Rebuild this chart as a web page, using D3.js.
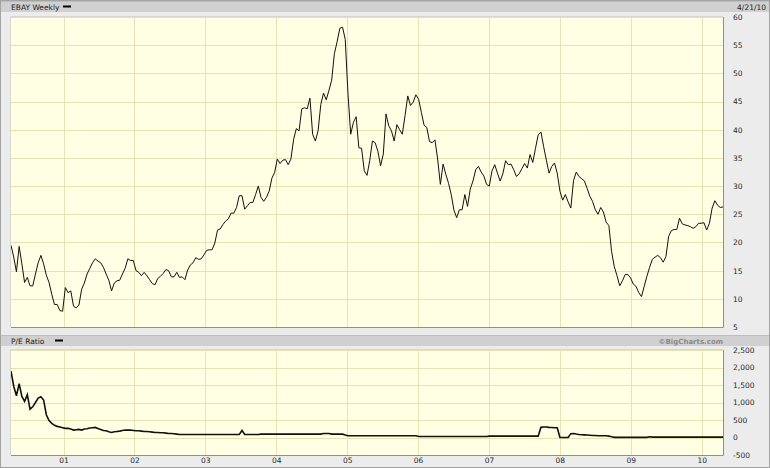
<!DOCTYPE html>
<html>
<head>
  <meta charset="utf-8">
  <title>EBAY Weekly</title>
  <script src="https://cdn.jsdelivr.net/npm/d3@7"></script>
  <style>
    body { margin: 0; background: #fff; }
    svg { display: block; font-family: "DejaVu Sans", sans-serif; }
  </style>
</head>
<body>
<div id="chart"></div>
<script>

// weekly chart sampled every two weeks, first close on startDate
var startDate = "2000-04-05";
var stepDays = 14;

var priceValues = [
  19.5, 17.4, 14.8, 19.3, 16.2, 12.9, 13.8, 12.3, 12.3, 14.4,
  16.4, 17.7, 16.2, 14.2, 12.9, 10.8, 9.0, 9.0, 7.9, 7.8,
  12.0, 11.1, 11.4, 8.7, 8.4, 8.9, 11.7, 12.8, 14.4, 15.4,
  16.4, 17.1, 16.7, 16.4, 15.6, 14.4, 13.3, 11.4, 12.8, 13.2,
  13.3, 14.4, 15.4, 17.1, 16.8, 16.8, 15.0, 14.7, 14.1, 14.7,
  14.1, 13.4, 12.7, 12.5, 13.6, 14.0, 14.5, 15.2, 15.0, 13.9,
  13.9, 14.7, 13.8, 13.9, 13.4, 15.1, 16.0, 16.4, 17.3, 17.0,
  17.1, 17.8, 18.6, 18.7, 18.7, 19.9, 22.2, 22.4, 23.2, 23.8,
  24.2, 25.2, 25.2, 26.2, 28.3, 28.3, 25.9, 26.5, 27.1, 27.1,
  28.5, 30.0, 28.0, 27.3, 28.0, 29.1, 31.4, 32.4, 34.8, 34.0,
  34.6, 34.7, 33.8, 34.8, 38.3, 40.2, 39.8, 43.7, 43.9, 43.7,
  45.6, 39.2, 38.0, 39.8, 44.5, 46.5, 45.3, 47.0, 48.8, 53.5,
  55.6, 58.0, 58.2, 56.0, 46.4, 39.2, 41.3, 42.3, 36.8, 36.7,
  32.7, 31.9, 34.5, 38.0, 37.7, 36.2, 33.6, 35.7, 42.8, 40.7,
  39.8, 38.0, 40.9, 40.0, 39.2, 42.5, 46.0, 44.3, 44.9, 46.2,
  45.4, 43.1, 40.8, 40.4, 37.9, 37.7, 38.2, 34.8, 30.3, 33.9,
  32.1, 30.5, 28.5, 25.7, 24.4, 25.8, 25.8, 28.5, 26.4, 29.5,
  30.9, 32.9, 33.5, 32.5, 31.8, 30.3, 30.0, 32.7, 33.8, 32.3,
  30.9, 32.2, 34.5, 33.8, 33.9, 32.9, 31.7, 32.2, 33.1, 34.0,
  33.2, 35.6, 34.2, 36.7, 39.1, 39.6, 37.0, 34.6, 32.3, 33.5,
  34.1, 32.3, 29.1, 27.5, 28.5, 27.2, 26.1, 31.0, 32.5, 31.7,
  31.3, 30.9, 29.6, 28.2, 27.3, 25.8, 25.0, 26.2, 25.4, 23.6,
  23.0, 18.4, 15.7, 14.1, 12.3, 13.2, 14.3, 14.3, 13.7, 12.6,
  12.2, 11.1, 10.4, 12.2, 14.0, 15.6, 17.0, 17.4, 17.7, 17.3,
  16.5, 17.5, 21.1, 22.1, 22.3, 22.3, 24.3, 23.3, 23.1, 23.0,
  22.8, 22.5, 22.8, 23.4, 23.4, 23.5, 22.2, 23.4, 26.1, 27.4,
  26.6, 26.2, 26.3
];

var peValues = [
  1897, 1464, 1194, 1540, 1175, 1030, 1223, 809, 876, 1001,
  1127, 1165, 1069, 650, 482, 404, 347, 318, 299, 279,
  260, 260, 241, 212, 221, 231, 212, 241, 250, 270,
  279, 289, 260, 231, 202, 193, 164, 144, 164, 173,
  183, 202, 212, 212, 212, 202, 193, 193, 183, 173,
  173, 164, 154, 144, 144, 135, 135, 125, 116, 116,
  106, 96, 87, 87, 87, 87, 87, 87, 87, 87,
  87, 87, 87, 87, 87, 87, 87, 87, 87, 87,
  87, 87, 87, 87, 87, 200, 87, 87, 87, 87,
  87, 87, 96, 96, 96, 96, 96, 96, 96, 96,
  96, 96, 96, 96, 96, 96, 96, 96, 96, 96,
  96, 96, 96, 96, 96, 116, 116, 116, 96, 96,
  96, 96, 96, 70, 48, 48, 48, 48, 48, 48,
  48, 48, 48, 48, 48, 48, 48, 48, 48, 48,
  48, 48, 48, 48, 48, 48, 48, 48, 48, 48,
  29, 29, 29, 29, 29, 29, 29, 29, 29, 29,
  29, 29, 29, 29, 29, 29, 29, 29, 29, 29,
  29, 29, 29, 29, 29, 29, 39, 39, 39, 39,
  39, 39, 39, 39, 39, 39, 39, 39, 39, 39,
  39, 39, 39, 39, 39, 290, 300, 300, 290, 285,
  280, 280, 0, 0, 0, 0, 110, 116, 100, 87,
  80, 75, 70, 65, 58, 55, 52, 50, 48, 48,
  40, 20, 5, 5, 5, 5, 5, 5, 5, 5,
  5, 5, 5, 5, 5, 20, 10, 10, 10, 10,
  10, 10, 10, 10, 10, 10, 10, 10, 10, 10,
  10, 10, 10, 10, 10, 10, 10, 10, 10, 10,
  10, 10, 10
];

var priceTicks = [5, 10, 15, 20, 25, 30, 35, 40, 45, 50, 55, 60];
var peTicks = [-500, 0, 500, 1000, 1500, 2000, 2500];
var peTickLabels = ["-500", "0", "500", "1,000", "1,500", "2,000", "2,500"];
var yearTicks = [2001, 2002, 2003, 2004, 2005, 2006, 2007, 2008, 2009, 2010];

var titleText = "EBAY Weekly";
var dateText = "4/21/10";
var peTitle = "P/E Ratio";
var creditText = "\u00A9BigCharts.com";

var width = 770, height = 468;
var left = 11, right = 723;
var top1 = 17, bottom1 = 327;
var top2 = 350, bottom2 = 455;

var gridColor = "#e6e2b3";
var plotFill = "#ffffe3";

var parse = d3.timeParse("%Y-%m-%d");
var start = parse(startDate);
var dates = priceValues.map(function (v, i) { return d3.timeDay.offset(start, i * stepDays); });
var yearDates = yearTicks.map(function (y) { return new Date(y, 0, 1); });

var svg = d3.select("#chart").append("svg")
  .attr("width", width)
  .attr("height", height);

// background & frame
svg.append("rect").attr("width", width).attr("height", height).attr("fill", "#ececec");
svg.append("rect").attr("x", 0.5).attr("y", 0.5).attr("width", width - 1).attr("height", height - 1)
  .attr("fill", "none").attr("stroke", "#a3a3a3");

var x = d3.scaleTime().domain([dates[0], dates[dates.length - 1]]).range([left, right]);
var yPrice = d3.scaleLinear().domain([5, 60]).range([bottom1, top1]);
var yPE = d3.scaleLinear().domain([-500, 2500]).range([bottom2, top2]);

function headerBand(y) {
  svg.append("rect").attr("x", 1).attr("y", y).attr("width", width - 2).attr("height", 11).attr("fill", "#d0d0d0");
  svg.append("line").attr("x1", 1).attr("x2", width - 1).attr("y1", y + 0.5).attr("y2", y + 0.5).attr("stroke", "#bdbdbd");
}

function panel(yScale, ticks, top, bottom) {
  var g = svg.append("g");
  g.append("rect").attr("x", left).attr("y", top).attr("width", right - left).attr("height", bottom - top)
    .attr("fill", plotFill);

  g.append("g").selectAll("line").data(ticks).enter().append("line")
    .attr("x1", left).attr("x2", right)
    .attr("y1", function (d) { return Math.round(yScale(d)) + 0.5; })
    .attr("y2", function (d) { return Math.round(yScale(d)) + 0.5; })
    .attr("stroke", gridColor);

  g.append("g").selectAll("line").data(yearDates).enter().append("line")
    .attr("x1", function (d) { return Math.round(x(d)) + 0.5; })
    .attr("x2", function (d) { return Math.round(x(d)) + 0.5; })
    .attr("y1", top).attr("y2", bottom)
    .attr("stroke", gridColor);

  // edges: light top/left, darker bottom/right
  g.append("path").attr("d", "M" + (left - 0.5) + "," + bottom + "V" + (top - 0.5) + "H" + right)
    .attr("fill", "none").attr("stroke", "#d6d6d6");
  g.append("path").attr("d", "M" + left + "," + (bottom + 0.5) + "H" + (right + 0.5) + "V" + top)
    .attr("fill", "none").attr("stroke", "#8e8e8e");
  return g;
}

headerBand(1);
headerBand(335);

panel(yPrice, priceTicks, top1, bottom1);
panel(yPE, peTicks, top2, bottom2);

svg.append("clipPath").attr("id", "clip1")
  .append("rect").attr("x", left).attr("y", top1).attr("width", right - left).attr("height", bottom1 - top1);
svg.append("clipPath").attr("id", "clip2")
  .append("rect").attr("x", left).attr("y", top2).attr("width", right - left).attr("height", bottom2 - top2);

var priceLine = d3.line()
  .x(function (d, i) { return x(dates[i]); })
  .y(function (d) { return yPrice(d); });

var peLine = d3.line()
  .x(function (d, i) { return x(dates[i]); })
  .y(function (d) { return yPE(d); });

svg.append("path").datum(priceValues)
  .attr("clip-path", "url(#clip1)")
  .attr("d", priceLine)
  .attr("fill", "none").attr("stroke", "#111").attr("stroke-width", 1);

svg.append("path").datum(peValues)
  .attr("clip-path", "url(#clip2)")
  .attr("d", peLine)
  .attr("fill", "none").attr("stroke", "#111").attr("stroke-width", 1.6);

// right axes
var ax1 = svg.append("g").attr("transform", "translate(" + right + ",0)")
  .call(d3.axisRight(yPrice).tickValues(priceTicks).tickSize(0).tickPadding(10));
var ax2 = svg.append("g").attr("transform", "translate(" + right + ",0)")
  .call(d3.axisRight(yPE).tickValues(peTicks).tickSize(0).tickPadding(10)
    .tickFormat(function (d, i) { return peTickLabels[i]; }));

// bottom axis
var ax3 = svg.append("g").attr("transform", "translate(0," + bottom2 + ")")
  .call(d3.axisBottom(x).tickValues(yearDates).tickSize(0).tickPadding(3)
    .tickFormat(d3.timeFormat("%y")));

[ax1, ax2, ax3].forEach(function (a) {
  a.select(".domain").remove();
  a.selectAll("text").attr("fill", "#2a2a2a").style("font-size", "7.5px")
    .style("font-family", "'DejaVu Sans', sans-serif");
});

// header texts
svg.append("text").attr("x", 11).attr("y", 9.5).text(titleText)
  .attr("fill", "#222").style("font-size", "7.5px");
svg.append("rect").attr("x", 63).attr("y", 5.5).attr("width", 8).attr("height", 2).attr("fill", "#000");
svg.append("text").attr("x", 766).attr("y", 9.5).attr("text-anchor", "end").text(dateText)
  .attr("fill", "#222").style("font-size", "7.5px");

svg.append("text").attr("x", 11).attr("y", 343.5).text(peTitle)
  .attr("fill", "#222").style("font-size", "7.5px");
svg.append("rect").attr("x", 55).attr("y", 339.5).attr("width", 8).attr("height", 2).attr("fill", "#000");
svg.append("text").attr("x", 723).attr("y", 343.5).attr("text-anchor", "end").text(creditText)
  .attr("fill", "#8a8a8a").style("font-size", "7px").style("font-weight", "bold");

</script>
</body>
</html>
